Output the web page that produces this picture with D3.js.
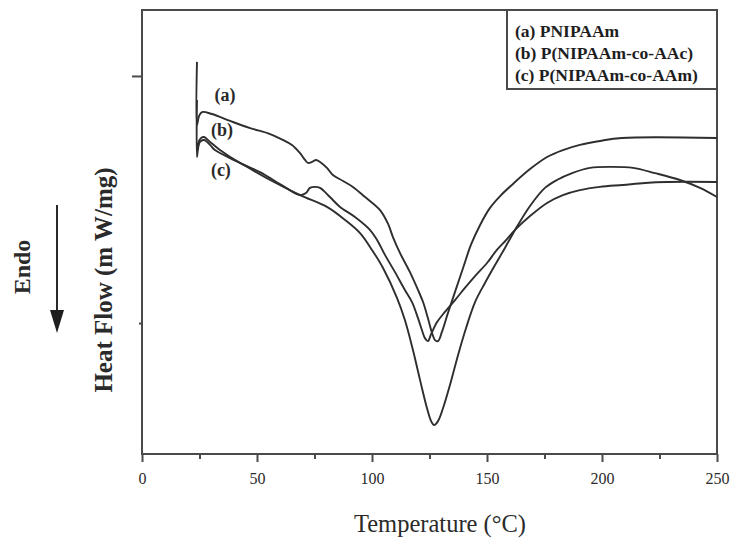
<!DOCTYPE html>
<html><head><meta charset="utf-8">
<script src="https://cdn.jsdelivr.net/npm/d3@7"></script>
<style>html,body{margin:0;padding:0;background:#fff;}svg{display:block;}</style>
</head><body>
<script>
// Temperature (°C) and heat flow (mW/mg, arbitrary offset)
const tempA = [23.9,23.9,24.8,26.1,30.4,38.3,47.0,55.7,61.3,65.2,68.7,70.9,72.2,73.9,75.7,77.4,80.4,83.0,87.4,91.7,97.0,103.5,107.0,109.1,112.2,116.5,120.0,122.2,124.3,126.1,127.4,128.7,130.4,133.0,136.1,139.6,143.0,147.0,151.3,155.7,161.3,168.7,176.1,183.0,190.4,199.1,208.7,250];
const flowA = [0.057,-0.198,-0.162,-0.146,-0.154,-0.182,-0.211,-0.235,-0.259,-0.279,-0.312,-0.340,-0.352,-0.348,-0.340,-0.348,-0.372,-0.401,-0.425,-0.449,-0.490,-0.543,-0.599,-0.652,-0.717,-0.794,-0.866,-0.915,-0.980,-1.040,-1.069,-1.073,-1.036,-0.960,-0.874,-0.777,-0.684,-0.603,-0.534,-0.486,-0.437,-0.377,-0.328,-0.300,-0.279,-0.263,-0.251,-0.251];

const tempB = [23.9,23.9,24.8,25.7,27.0,29.6,33.9,42.6,51.3,61.3,68.7,71.3,73.0,75.2,77.4,81.7,86.1,92.6,99.1,102.2,105.7,110.0,114.3,117.4,120.0,121.7,123.0,124.3,125.7,128.3,131.7,136.1,140.4,144.8,150.0,154.3,158.3,162.2,168.7,176.1,183.0,190.4,199.1,209.1,218.7,228.3,250];
const flowB = [-0.097,-0.328,-0.263,-0.251,-0.247,-0.267,-0.300,-0.352,-0.389,-0.445,-0.482,-0.474,-0.453,-0.449,-0.453,-0.490,-0.530,-0.571,-0.623,-0.664,-0.725,-0.794,-0.866,-0.915,-0.980,-1.028,-1.061,-1.073,-1.045,-0.996,-0.955,-0.907,-0.858,-0.810,-0.757,-0.704,-0.664,-0.623,-0.567,-0.514,-0.482,-0.462,-0.449,-0.441,-0.433,-0.429,-0.429];

const tempC = [24.3,25.2,27.0,29.6,31.7,42.6,55.7,68.7,80.4,88.3,94.8,100.0,104.8,110.9,114.3,117.8,120.9,123.9,125.7,127.0,128.7,130.9,133.9,137.4,140.9,144.8,149.1,153.5,157.8,162.2,168.7,175.2,180.4,187.0,194.8,204.3,213.5,223.0,233.9,242.6,250];
const flowC = [-0.300,-0.267,-0.259,-0.279,-0.300,-0.352,-0.421,-0.482,-0.530,-0.583,-0.636,-0.704,-0.777,-0.899,-0.988,-1.109,-1.231,-1.344,-1.397,-1.413,-1.397,-1.344,-1.251,-1.130,-1.020,-0.915,-0.838,-0.765,-0.696,-0.623,-0.526,-0.453,-0.421,-0.393,-0.372,-0.368,-0.372,-0.393,-0.421,-0.453,-0.490];

const seriesNames = ["(a) PNIPAAm", "(b) P(NIPAAm-co-AAc)", "(c) P(NIPAAm-co-AAm)"];
const curveTags = ["(a)", "(b)", "(c)"];
const tagTemp = [36.1, 34.8, 34.3];
const tagFlow = [-0.077, -0.219, -0.381];
const xMajorTicks = [0, 50, 100, 150, 200, 250];
const xMinorTicks = [25, 75, 125, 175, 225];
const yTicks = [0, -1];

const W = 737, H = 551;
const svg = d3.select("body").append("svg").attr("width", W).attr("height", H)
  .style("font-family", "'Liberation Serif','Times New Roman',serif");
svg.append("rect").attr("width", W).attr("height", H).attr("fill", "#fff");

const x = d3.scaleLinear().domain([0, 250]).range([142, 717]);
const y = d3.scaleLinear().domain([-1.530, 0.267]).range([454, 10]);

const frameColor = "#4a4a4a";
const lineColor = "#2e2e2e";

// x axis
const gx = svg.append("g").attr("transform", `translate(0,${y(-1.530)})`);
gx.call(d3.axisBottom(x).tickValues(xMajorTicks).tickSize(8).tickSizeOuter(0).tickPadding(11).tickFormat(d3.format("d")));
const gxm = svg.append("g").attr("transform", `translate(0,${y(-1.530)})`);
gxm.call(d3.axisBottom(x).tickValues(xMinorTicks).tickSize(5).tickSizeOuter(0).tickFormat(""));
[gx, gxm].forEach(g => {
  g.select(".domain").remove();
  g.selectAll(".tick line").attr("stroke", frameColor).attr("stroke-width", 2);
});
gx.selectAll(".tick text").attr("font-size", 16).attr("fill", "#2a2a2a")
  .style("font-family", "'Liberation Serif',serif");

// y axis ticks
const gy = svg.append("g").attr("transform", `translate(${x(0)},0)`);
gy.call(d3.axisLeft(y).tickValues([yTicks[0]]).tickSize(10).tickSizeOuter(0).tickFormat(""));
const gy2 = svg.append("g").attr("transform", `translate(${x(0)},0)`);
gy2.call(d3.axisLeft(y).tickValues([yTicks[1]]).tickSize(3).tickSizeOuter(0).tickFormat(""));
[gy, gy2].forEach(g => {
  g.select(".domain").remove();
  g.selectAll(".tick line").attr("stroke", frameColor).attr("stroke-width", 2);
});

// frame
svg.append("rect")
  .attr("x", x(0)).attr("y", y(0.267))
  .attr("width", x(250) - x(0)).attr("height", y(-1.530) - y(0.267))
  .attr("fill", "none").attr("stroke", frameColor).attr("stroke-width", 2);

// curves
const line = d3.line().x(d => x(d[0])).y(d => y(d[1])).curve(d3.curveCatmullRom.alpha(0.5));
const series = [
  d3.zip(tempA, flowA),
  d3.zip(tempB, flowB),
  d3.zip(tempC, flowC)
];
svg.append("g").selectAll("path").data(series).join("path")
  .attr("d", line).attr("fill", "none").attr("stroke", lineColor)
  .attr("stroke-width", 1.9).attr("stroke-linejoin", "round");

// curve tags
svg.append("g").selectAll("text").data(curveTags).join("text")
  .attr("x", (d, i) => x(tagTemp[i])).attr("y", (d, i) => y(tagFlow[i]))
  .attr("text-anchor", "middle").attr("dominant-baseline", "central")
  .attr("font-size", 18).attr("font-weight", "bold").attr("fill", "#2a2a2a")
  .text(d => d);

// legend box
const lg = svg.append("g");
lg.append("rect").attr("x", 507).attr("y", 10).attr("width", 717 - 507).attr("height", 79)
  .attr("fill", "#fff").attr("stroke", frameColor).attr("stroke-width", 2);
lg.selectAll("text").data(seriesNames).join("text")
  .attr("x", 515).attr("y", (d, i) => 37 + i * 22)
  .attr("font-size", 17.5).attr("font-weight", "bold").attr("fill", "#1e1e1e")
  .text(d => d);

// axis titles
svg.append("text").attr("x", 440).attr("y", 532).attr("text-anchor", "middle")
  .attr("font-size", 24.5).attr("fill", "#2a2a2a").text("Temperature (°C)");
svg.append("text").attr("transform", "translate(103,280) rotate(-90)")
  .attr("text-anchor", "middle").attr("dominant-baseline", "central")
  .attr("font-size", 25).attr("font-weight", "bold").attr("fill", "#2a2a2a")
  .text("Heat Flow (m W/mg)");
svg.append("text").attr("transform", "translate(22,267) rotate(-90)")
  .attr("text-anchor", "middle").attr("dominant-baseline", "central")
  .attr("font-size", 24).attr("font-weight", "bold").attr("fill", "#2a2a2a")
  .text("Endo");

// Endo arrow
svg.append("line").attr("x1", 57).attr("x2", 57).attr("y1", 205).attr("y2", 315)
  .attr("stroke", "#2a2a2a").attr("stroke-width", 2);
svg.append("path").attr("d", "M50,310 L64,310 L57,333 Z").attr("fill", "#1e1e1e");
</script>
</body></html>
